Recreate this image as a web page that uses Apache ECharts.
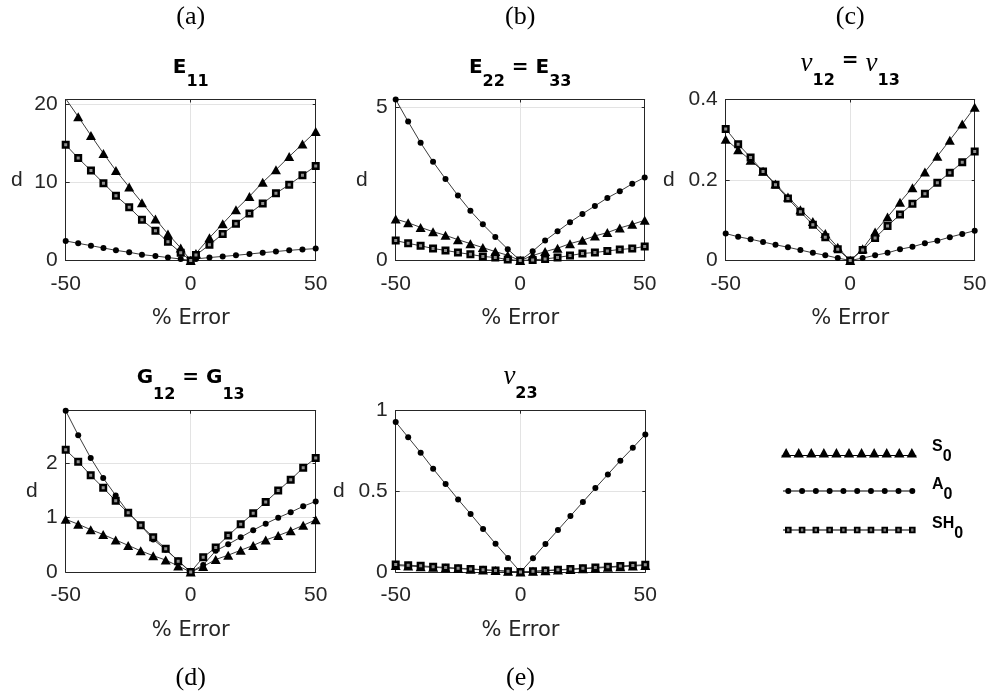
<!DOCTYPE html>
<html><head><meta charset="utf-8">
<script src="https://cdn.jsdelivr.net/npm/echarts@6/dist/echarts.min.js"></script>
<style>html,body{margin:0;padding:0;background:#fff}#c{width:992px;height:696px}</style>
</head><body><div id="c"></div>
<script>
// ---------------- data ----------------
const xCommon = [-50,-45,-40,-35,-30,-25,-20,-15,-10,-5,0,5,10,15,20,25,30,35,40,45,50];
const xPanelA = [-50,-45,-39.9,-34.9,-29.9,-24.6,-19.5,-14.1,-9.1,-4,0,2.1,7.5,12.8,18.1,23.5,28.8,34.1,39.4,44.7,50];

// (a) E11
const aS0  = [20.7,18.4,16.0,13.7,11.5,9.4,7.4,5.3,3.4,1.6,0,0.9,2.9,4.7,6.5,8.2,10.0,11.6,13.3,14.9,16.5];
const aA0  = [2.5,2.2,1.9,1.6,1.3,1.05,0.75,0.57,0.38,0.19,0,0.2,0.38,0.52,0.66,0.83,1.0,1.15,1.3,1.42,1.52];
const aSH0 = [14.8,13.1,11.5,9.9,8.3,6.8,5.2,3.8,2.4,1.0,0,0.7,2.0,3.4,4.7,6.0,7.3,8.6,9.7,10.9,12.1];
// (b) E22 = E33
const bS0  = [1.35,1.23,1.08,0.94,0.82,0.68,0.55,0.42,0.29,0.17,0,0.16,0.29,0.4,0.55,0.66,0.8,0.91,1.06,1.18,1.31];
const bA0  = [5.25,4.53,3.84,3.22,2.66,2.12,1.62,1.18,0.77,0.37,0,0.3,0.65,0.95,1.25,1.52,1.78,2.04,2.26,2.5,2.71];
const bSH0 = [0.65,0.56,0.48,0.39,0.33,0.26,0.2,0.13,0.1,0.03,0,0.02,0.05,0.1,0.16,0.23,0.26,0.31,0.36,0.39,0.46];
// (c) nu12 = nu13
const cS0  = [0.301,0.275,0.249,0.222,0.19,0.158,0.126,0.097,0.067,0.033,0,0.029,0.071,0.108,0.145,0.181,0.22,0.259,0.299,0.339,0.381];
const cA0  = [0.067,0.059,0.053,0.046,0.039,0.033,0.026,0.019,0.013,0.006,0,0.006,0.013,0.019,0.028,0.034,0.043,0.049,0.058,0.066,0.074];
const cSH0 = [0.327,0.289,0.256,0.221,0.188,0.154,0.121,0.089,0.058,0.028,0,0.026,0.056,0.086,0.114,0.141,0.166,0.193,0.218,0.244,0.271];
// (d) G12 = G13
const dS0  = [0.97,0.88,0.78,0.69,0.59,0.49,0.39,0.3,0.22,0.11,0,0.1,0.23,0.31,0.4,0.49,0.59,0.67,0.76,0.86,0.96];
const dA0  = [2.97,2.52,2.1,1.73,1.41,1.1,0.86,0.6,0.41,0.21,0,0.13,0.39,0.51,0.64,0.77,0.89,1.0,1.1,1.21,1.3];
const dSH0 = [2.25,2.03,1.78,1.55,1.31,1.09,0.86,0.64,0.43,0.2,0,0.27,0.45,0.67,0.88,1.08,1.29,1.5,1.7,1.92,2.1];
// (e) nu23
const eS0  = [0.04,0.037,0.033,0.029,0.025,0.021,0.017,0.013,0.009,0.004,0,0.004,0.008,0.012,0.016,0.02,0.024,0.029,0.033,0.037,0.041];
const eA0  = [0.93,0.835,0.74,0.64,0.545,0.45,0.36,0.267,0.175,0.087,0,0.085,0.174,0.26,0.347,0.434,0.52,0.605,0.69,0.77,0.853];
const eSH0 = [0.046,0.042,0.038,0.033,0.028,0.024,0.019,0.014,0.01,0.005,0,0.004,0.009,0.014,0.018,0.023,0.028,0.032,0.037,0.041,0.045];

const xTickLabels = [-50, 0, 50];
const yTickLabelsA = [0, 10, 20];
const yTickLabelsB = [0, 5];
const yTickLabelsC = [0, 0.2, 0.4];
const yTickLabelsD = [0, 1, 2];
const yTickLabelsE = [0, 0.5, 1];
const yMaxes = [20.6, 5.25, 0.4, 2.97, 1];
const yIntervals = [10, 5, 0.2, 1, 0.5];
const seriesNames = ['S0', 'A0', 'SH0'];
const panelLetters = ['(a)', '(b)', '(c)', '(d)', '(e)'];
const panelTitles = ['{m|E}{s|11}', '{m|E}{s|22}{m| = E}{s|33}', '{n|ν}{t|12}{m| = }{n|ν}{t|13}', '{m|G}{u|12}{m| = G}{u|13}', '{n|ν}{t|23}'];

// ---------------- layout / style ----------------
const SANS = "'Liberation Sans', Arial, sans-serif";
const WIDE = "'DejaVu Sans', sans-serif";
const SERIF = "'Liberation Serif', 'Times New Roman', serif";
const AX = '#262626';
const grids = [
  {left: 65.7, top: 99.5, width: 250, height: 161},
  {left: 395.7, top: 99.5, width: 249, height: 161},
  {left: 725.7, top: 99.5, width: 249, height: 161},
  {left: 65.7, top: 410.7, width: 250, height: 161.3},
  {left: 395.7, top: 410.7, width: 249.6, height: 161.3}
];
const yNameGaps = [43, 28, 51, 28, 51];
const titleTops = [58, 58, 50.5, 368, 363.5];
const letterYs = [17, 17, 17, 678, 678];
const panelX = [xPanelA, xCommon, xCommon, xCommon, xCommon];
const panelY = [[aS0, aA0, aSH0], [bS0, bA0, bSH0], [cS0, cA0, cSH0], [dS0, dA0, dSH0], [eS0, eA0, eSH0]];
const yTickLists = [yTickLabelsA, yTickLabelsB, yTickLabelsC, yTickLabelsD, yTickLabelsE];

const seriesStyle = [
  {symbol: 'triangle', symbolSize: [10, 9], itemStyle: {color: '#000'}},
  {symbol: 'circle', symbolSize: 6, itemStyle: {color: '#000'}},
  {symbol: 'rect', symbolSize: 5.5, itemStyle: {color: '#8f8f8f', borderColor: '#000', borderWidth: 2.5}}
];

const xAxes = [], yAxes = [], series = [], gridOpts = [];
grids.forEach((g, i) => {
  gridOpts.push(Object.assign({show: false, containLabel: false, outerBoundsMode: 'none'}, g));
  xAxes.push({
    gridIndex: i, type: 'value', min: -50, max: 50, interval: 50, position: 'bottom', z: 1,
    axisLine: {show: true, onZero: false, lineStyle: {color: AX, width: 1}},
    axisTick: {show: true, inside: true, length: 4, lineStyle: {color: AX}},
    axisLabel: {fontSize: 21, fontFamily: SANS, color: AX, margin: 13,
      formatter: v => xTickLabels.some(t => Math.abs(t - v) < 1e-9) ? String(v) : ''},
    splitLine: {show: true, showMinLine: false, showMaxLine: false, lineStyle: {color: '#e3e3e3', width: 1}},
    name: '% Error', nameLocation: 'middle', nameGap: 48,
    nameTextStyle: {fontSize: 21, fontFamily: WIDE, color: AX}
  });
  const ticks = yTickLists[i];
  yAxes.push({
    gridIndex: i, type: 'value', min: 0, max: yMaxes[i], interval: yIntervals[i], position: 'left', z: 1,
    axisLine: {show: true, onZero: false, lineStyle: {color: AX, width: 1}},
    axisTick: {show: true, inside: true, length: 4, lineStyle: {color: AX}},
    axisLabel: {fontSize: 21, fontFamily: SANS, color: AX, margin: 8, showMaxLabel: true, showMinLabel: true,
      formatter: v => ticks.some(t => Math.abs(t - v) < 1e-9) ? String(v) : ''},
    splitLine: {show: true, showMinLine: false, showMaxLine: false, lineStyle: {color: '#e3e3e3', width: 1}},
    name: 'd', nameLocation: 'middle', nameRotate: 0, nameGap: yNameGaps[i],
    nameTextStyle: {fontSize: 21, fontFamily: SANS, color: AX}
  });
  panelY[i].forEach((ys, k) => {
    series.push(Object.assign({
      name: seriesNames[k], type: 'line', xAxisIndex: i, yAxisIndex: i,
      data: panelX[i].map((x, j) => [x, ys[j]]),
      lineStyle: {color: '#3c3c3c', width: 1}, showSymbol: true, animation: false, z: 3 + k
    }, seriesStyle[k]));
  });
});
// box: top and right axes
grids.forEach((g, i) => {
  xAxes.push({
    gridIndex: i, type: 'value', min: -50, max: 50, interval: 50, position: 'top', z: 2,
    axisLine: {show: true, onZero: false, lineStyle: {color: AX, width: 1}},
    axisTick: {show: true, inside: true, length: 3, lineStyle: {color: AX}},
    axisLabel: {show: false}, splitLine: {show: false}
  });
  yAxes.push({
    gridIndex: i, type: 'value', min: 0, max: yMaxes[i], interval: yIntervals[i], position: 'right', z: 2,
    axisLine: {show: true, onZero: false, lineStyle: {color: AX, width: 1}},
    axisTick: {show: true, inside: true, length: 3, lineStyle: {color: AX}},
    axisLabel: {show: false}, splitLine: {show: false}
  });
});

// ---------------- legend icons (drawn as path icons) ----------------
const LW = 136, LH = 12;
const bboxPts = `M0 0h0.01v0.01h-0.01z M${LW - 0.01} ${LH - 0.01}h0.01v0.01h-0.01z `;
function triIcon() {
  let p = bboxPts + `M0 8.2H${LW}V9.4H0Z `;
  for (let k = 0; k < 11; k++) {
    const cx = 4.5 + k * (LW - 9) / 10;
    p += `M${cx} 1.2L${cx + 5.2} 10.9L${cx - 5.2} 10.9Z `;
  }
  return 'path://' + p;
}
function circIcon() {
  let p = bboxPts + `M2 5.4H${LW - 2}V6.6H2Z `;
  const r = 3;
  for (let k = 0; k < 10; k++) {
    const cx = 7.3 + k * (LW - 4.7 - 7.3) / 9;
    p += `M${cx - r} 6A${r} ${r} 0 1 1 ${cx + r} 6A${r} ${r} 0 1 1 ${cx - r} 6Z `;
  }
  return 'path://' + p;
}
function sqIcon() {
  let p = bboxPts + `M2 5.4H${LW - 2}V6.6H2Z `;
  const s = 3.3, h = 1.2;
  for (let k = 0; k < 10; k++) {
    const cx = 7.3 + k * (LW - 4.7 - 7.3) / 9;
    p += `M${cx - s} ${6 - s}H${cx + s}V${6 + s}H${cx - s}Z `;
    p += `M${cx - h} ${6 - h}V${6 + h}H${cx + h}V${6 - h}Z `;
  }
  return 'path://' + p;
}
const legendIcons = [triIcon(), circIcon(), sqIcon()];
const legendTops = [438.2, 476.5, 515.5];
const legendLabels = {S0: '{m|S}{s|0}', A0: '{m|A}{s|0}', SH0: '{m|SH}{s|0}'};
const legends = seriesNames.map((n, i) => ({
  left: 781, top: legendTops[i], orient: 'horizontal', padding: 0,
  itemWidth: LW, itemHeight: LH, selectedMode: false,
  data: [{name: n, icon: legendIcons[i], itemStyle: {color: '#000', borderWidth: 0, opacity: 1}}],
  formatter: name => legendLabels[name],
  textStyle: {
    color: '#000',
    rich: {
      m: {fontFamily: SANS, fontWeight: 'bold', fontSize: 16, verticalAlign: 'top', padding: [0, 0, 0, 10], color: '#000'},
      s: {fontFamily: SANS, fontWeight: 'bold', fontSize: 16, verticalAlign: 'bottom', padding: [10, 0, 3, 0], color: '#000'}
    }
  }
}));

// ---------------- titles and panel letters ----------------
const titleRich = {
  m: {fontFamily: WIDE, fontWeight: 'bold', fontSize: 20, verticalAlign: 'top', fill: '#000', color: '#000'},
  s: {fontFamily: WIDE, fontWeight: 'bold', fontSize: 16, verticalAlign: 'bottom', padding: [16, 0, 0, 0], fill: '#000', color: '#000'},
  u: {fontFamily: WIDE, fontWeight: 'bold', fontSize: 16, verticalAlign: 'bottom', padding: [19, 0, 0, 0], fill: '#000', color: '#000'},
  t: {fontFamily: WIDE, fontWeight: 'bold', fontSize: 16, verticalAlign: 'bottom', padding: [22, 0, 0, 0], fill: '#000', color: '#000'},
  n: {fontFamily: SERIF, fontStyle: 'italic', fontSize: 27, verticalAlign: 'top', fill: '#000', color: '#000'}
};
const graphics = [];
grids.forEach((g, i) => {
  const cx = g.left + g.width / 2;
  graphics.push({
    type: 'text', x: cx, y: titleTops[i],
    style: {text: panelTitles[i], rich: titleRich, align: 'center', verticalAlign: 'top', fill: '#000'}
  });
  graphics.push({
    type: 'text', x: cx, y: letterYs[i],
    style: {text: panelLetters[i], font: `26px ${SERIF}`, align: 'center', verticalAlign: 'middle', fill: '#000'}
  });
});

const chart = echarts.init(document.getElementById('c'), null, {renderer: 'canvas'});
chart.setOption({
  backgroundColor: '#fff',
  animation: false,
  grid: gridOpts,
  xAxis: xAxes,
  yAxis: yAxes,
  legend: legends,
  series: series,
  graphic: graphics
});
</script>
</body></html>
